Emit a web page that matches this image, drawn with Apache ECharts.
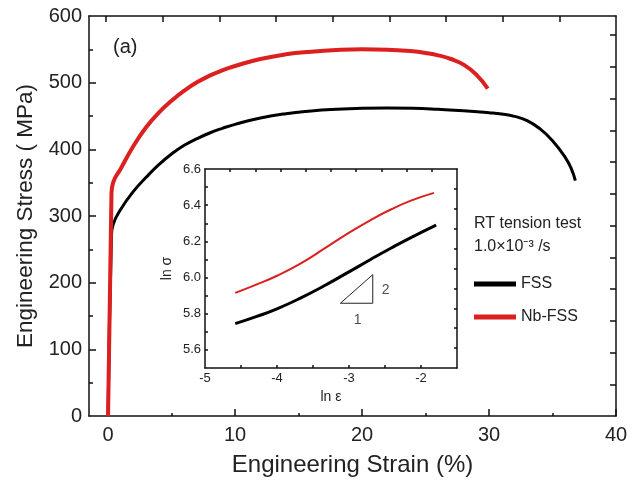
<!DOCTYPE html>
<html>
<head>
<meta charset="utf-8">
<script src="https://cdn.jsdelivr.net/npm/echarts@6/dist/echarts.min.js"></script>
<style>
    html, body { margin: 0; padding: 0; background: #fff; }
    #main { width: 641px; height: 482px; }
</style>
</head>
<body>
<div id="main"></div>
<script>
// main curves: engineering strain (%) / stress (MPa)
var strainFSS = [0, 0.27, 0.4, 1, 2, 3, 4, 5, 6, 7, 8, 9, 10, 12, 14, 16, 18, 20, 22, 24, 26, 28, 30, 31, 32, 33, 34, 35, 36, 36.5, 36.8];
var stressFSS = [0, 270, 287, 310, 337, 358, 377, 393, 406, 416, 424.5, 431.5, 437.5, 447, 453.5, 457.5, 460, 461.5, 462, 461.5, 460, 458, 455, 453, 449.5, 443, 431, 413, 388, 370, 353];
var strainNb = [0, 0.27, 0.4, 1, 2, 3, 4, 5, 6, 7, 8, 9, 10, 12, 14, 16, 18, 20, 22, 24, 25, 26, 27, 28, 29, 29.9];
var stressNb = [0, 333, 350, 371, 405, 433, 455, 473, 488, 500.5, 510.5, 518.5, 525, 535.5, 542.5, 546.5, 549, 550, 549.5, 547, 544.5, 541, 535.5, 527, 512, 491];

// inset: ln(strain) / ln(stress)
var lnEpsFSS = [-4.58, -4.28, -4.0, -3.675, -3.35, -3.02, -2.70, -2.42, -2.14, -1.79];
var lnSigFSS = [5.745, 5.785, 5.827, 5.886, 5.953, 6.027, 6.100, 6.162, 6.221, 6.29];
var lnEpsNb = [-4.58, -4.28, -4.0, -3.675, -3.35, -3.02, -2.70, -2.42, -2.14, -1.82];
var lnSigNb = [5.915, 5.962, 6.010, 6.077, 6.158, 6.243, 6.318, 6.376, 6.425, 6.468];

// slope triangle in the inset
var triX = [-3.12, -2.67, -2.67, -3.12];
var triY = [5.858, 5.858, 6.016, 5.858];
var triLabelX = [-2.88, -2.49];
var triLabelY = [5.763, 5.93];
var triLabelText = ['1', '2'];

// ticks and labels
var strainLabels = [0, 10, 20, 30, 40];
var strainMinor = [5, 15, 25, 35];
var stressLabels = [0, 100, 200, 300, 400, 500, 600];
var stressMajor = [100, 200, 300, 400, 500];
var stressMinor = [50, 150, 250, 350, 450, 550];
var topTicks = [0, 1, 2, 3, 4, 5, 6, 7, 8];
var rightTicks = [1, 2, 3, 4, 5, 6, 7, 8, 9, 10, 11, 12];
var lnEpsLabels = [-5, -4, -3, -2];
var lnEpsTicks = [-4.5, -4, -3.5, -3, -2.5, -2];
var lnSigLabels = [5.6, 5.8, 6.0, 6.2, 6.4, 6.6];
var lnSigTicks = [5.6, 5.7, 5.8, 5.9, 6.0, 6.1, 6.2, 6.3, 6.4, 6.5];
var insetFrameTicks = [1, 2, 3, 4, 5, 6, 7, 8, 9];

function zip(a, b) {
    return a.map(function (v, i) { return [v, b[i]]; });
}

var FONT = 'Arial, "Liberation Sans", sans-serif';
var TXT = '#222';
var RED = '#dc1f1f';
var lineSt = { color: '#111', width: 1.5 };

function frameAxis(grid, pos, min, max, ticks, len, showLine, extra) {
    var a = {
        gridIndex: grid, type: 'value', position: pos, min: min, max: max,
        axisLine: { show: showLine, onZero: false, lineStyle: lineSt },
        axisTick: { show: true, inside: true, length: len, customValues: ticks, lineStyle: lineSt },
        axisLabel: { show: false },
        splitLine: { show: false }
    };
    return Object.assign(a, extra || {});
}

var chart = echarts.init(document.getElementById('main'));

var option = {
    animation: false,
    textStyle: { fontFamily: FONT },
    grid: [
        { left: 89, top: 16, width: 527, height: 407 },
        { left: 205, top: 169, width: 252, height: 199 }
    ],
    xAxis: [
        frameAxis(0, 'bottom', -1.5, 40, strainLabels, 7, true, {
            axisLabel: { show: true, customValues: strainLabels, fontSize: 20, color: TXT, margin: 9, fontFamily: FONT },
            name: 'Engineering Strain (%)', nameLocation: 'middle', nameGap: 37,
            nameTextStyle: { fontSize: 24, color: TXT, fontFamily: FONT }
        }),
        frameAxis(0, 'bottom', -1.5, 40, strainMinor, 3, false),
        frameAxis(0, 'top', -0.3, 9, topTicks, 6, true),
        frameAxis(1, 'bottom', -5, -1.5, lnEpsTicks, 3, true, {
            axisLabel: { show: true, customValues: lnEpsLabels, fontSize: 13, color: TXT, margin: 4, fontFamily: FONT },
            name: 'ln ε', nameLocation: 'middle', nameGap: 22,
            nameTextStyle: { fontSize: 14, color: TXT, fontFamily: FONT }
        }),
        frameAxis(1, 'top', 0, 10, insetFrameTicks, 3, true)
    ],
    yAxis: [
        frameAxis(0, 'left', 0, 600, stressMajor, 7, true, {
            axisLabel: { show: true, customValues: stressLabels, fontSize: 20, color: TXT, margin: 7, fontFamily: FONT },
            name: 'Engineering Stress ( MPa)', nameLocation: 'middle', nameGap: 52,
            nameTextStyle: { fontSize: 22.5, color: TXT, fontFamily: FONT }
        }),
        frameAxis(0, 'left', 0, 600, stressMinor, 4, false),
        frameAxis(0, 'right', 0, 12.6, rightTicks, 6, true),
        frameAxis(1, 'left', 5.5, 6.6, lnSigTicks, 3, true, {
            axisLabel: { show: true, customValues: lnSigLabels, fontSize: 13, color: TXT, margin: 4, fontFamily: FONT,
                formatter: function (v) { return v.toFixed(1); } },
            name: 'ln σ', nameLocation: 'middle', nameGap: 31,
            nameTextStyle: { fontSize: 14, color: TXT, fontFamily: FONT }
        }),
        frameAxis(1, 'right', 0, 10, insetFrameTicks, 3, true)
    ],
    legend: {
        data: ['FSS', 'Nb-FSS'],
        orient: 'vertical', left: 474, top: 276, padding: 0,
        icon: 'rect', itemWidth: 42, itemHeight: 5, itemGap: 17,
        textStyle: { fontSize: 16, color: TXT, fontFamily: FONT }
    },
    graphic: [
        { type: 'text', left: 113, top: 37, style: { text: '(a)', fontSize: 20, fill: TXT, fontFamily: FONT } },
        { type: 'text', left: 474, top: 216, style: { text: 'RT tension test', fontSize: 16, fill: TXT, fontFamily: FONT } },
        { type: 'text', left: 474, top: 239, style: { text: '1.0×10⁻³ /s', fontSize: 16, fill: TXT, fontFamily: FONT } }
    ],
    series: [
        {
            name: 'FSS', type: 'line', xAxisIndex: 0, yAxisIndex: 0, data: zip(strainFSS, stressFSS),
            symbol: 'none', smooth: 0.5, lineStyle: { color: '#000', width: 3 }, itemStyle: { color: '#000' }
        },
        {
            name: 'Nb-FSS', type: 'line', xAxisIndex: 0, yAxisIndex: 0, data: zip(strainNb, stressNb),
            symbol: 'none', smooth: 0.5, lineStyle: { color: RED, width: 4 }, itemStyle: { color: RED }
        },
        {
            name: 'lnFSS', type: 'line', xAxisIndex: 3, yAxisIndex: 3, data: zip(lnEpsFSS, lnSigFSS),
            symbol: 'none', smooth: 0.5, lineStyle: { color: '#000', width: 3 }
        },
        {
            name: 'lnNb', type: 'line', xAxisIndex: 3, yAxisIndex: 3, data: zip(lnEpsNb, lnSigNb),
            symbol: 'none', smooth: 0.5, lineStyle: { color: RED, width: 2 }
        },
        {
            name: 'slope', type: 'line', xAxisIndex: 3, yAxisIndex: 3, data: zip(triX, triY),
            symbol: 'none', lineStyle: { color: '#222', width: 1 }
        },
        {
            name: 'slopeText', type: 'scatter', xAxisIndex: 3, yAxisIndex: 3, symbolSize: 0,
            data: triLabelX.map(function (x, i) { return { value: [x, triLabelY[i]], name: triLabelText[i] }; }),
            label: { show: true, position: 'inside', formatter: '{b}', fontSize: 14, color: TXT, fontFamily: FONT }
        }
    ]
};

chart.setOption(option);
</script>
</body>
</html>
